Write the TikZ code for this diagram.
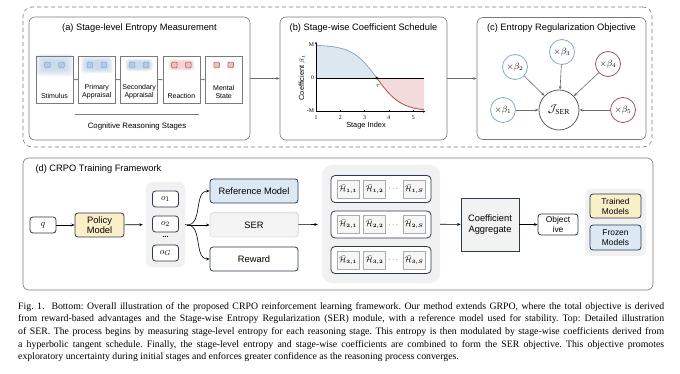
\documentclass[tikz,border=0pt]{standalone}
\usepackage{amsmath,amssymb,bm}
\usepackage{fontspec}
\setmainfont{Liberation Serif}
\setsansfont{Liberation Sans}
\usetikzlibrary{arrows.meta,positioning,shadows}

\definecolor{framegray}{HTML}{7A7A7A}
\definecolor{navy}{HTML}{2B3A4C}
\definecolor{softblue}{HTML}{DCE8F4}
\definecolor{softyellow}{HTML}{FBEFC8}
\definecolor{groupgray}{HTML}{F1F1F1}
\definecolor{lineblue}{HTML}{86AACF}
\definecolor{linered}{HTML}{B24A5C}
\definecolor{fillblue}{HTML}{DDE7EF}
\definecolor{fillred}{HTML}{F3DADB}
\definecolor{sqblue}{HTML}{B3CAE6}
\definecolor{sqred}{HTML}{EFBFC0}

\begin{document}
\begin{tikzpicture}[x=1pt, y=-1pt, >={Stealth[length=3.5pt,width=2.8pt]}, font=\sffamily,
  panel/.style={draw=framegray, line width=0.6pt, rounded corners=6pt, fill=white},
  paneltitle/.style={font=\sffamily\fontsize{9.3}{10}\selectfont},
  stagebox/.style={draw=framegray, line width=0.5pt, fill=none, minimum width=37pt, minimum height=47pt},
  stagelabel/.style={font=\sffamily\fontsize{7}{8.3}\selectfont, align=center, anchor=south, inner sep=1.5pt},
  stagearrow/.style={->, gray, line width=0.3pt, >={Stealth[length=2pt,width=1.8pt]}},
  betanode/.style={circle, draw=#1, line width=0.8pt, fill=white, minimum size=25pt, inner sep=0pt, font=\fontsize{9}{10}\selectfont},
  flowarrow/.style={->, line width=0.6pt, draw=gray!85!black},
  modelbox/.style={draw=navy, line width=0.8pt, rounded corners=3pt, fill=white, align=center, inner sep=1pt, font=\sffamily\fontsize{9.3}{10}\selectfont},
  grouptile/.style={fill=groupgray, rounded corners=6pt},
  hcell/.style={draw=gray!65, fill=gray!7, line width=0.6pt, minimum width=22pt, minimum height=18pt, inner sep=0pt, font=\fontsize{7.8}{8}\selectfont},
  ticklab/.style={font=\rmfamily\fontsize{5.8}{6}\selectfont, inner sep=0.5pt},
  link/.style={->, line width=0.6pt, black}
]
\useasboundingbox (0,0) rectangle (680,374);

% ---------------- top: the SER module ----------------
\node[draw=framegray, dash pattern=on 4pt off 3pt, line width=0.6pt, rounded corners=9pt, minimum width=629pt, minimum height=140pt] (serframe) at (337.5,77) {};

% (a) stage-level entropy
\node[panel, minimum width=221pt, minimum height=123pt] (pa) at (139.5,78.5) {};
\node[paneltitle] (ta) at (139.5,28) {(a) Stage-level Entropy Measurement};
% soft glow = entropy of each stage
\foreach \x/\g/\c in {54.5/9/sqblue, 96.8/6/sqblue, 139.1/3.5/sqblue, 181.4/3/sqred}
  \foreach \k in {1,...,6}
    \fill[\c, opacity=0.16, rounded corners=3pt] ({\x-10-\g*\k/6}, {62-0.9*\g*\k/6}) rectangle ({\x+10+\g*\k/6}, {68+0.9*\g*\k/6});
\foreach \x/\c/\d in {54.5/sqblue/lineblue, 96.8/sqblue/lineblue, 139.1/sqblue/lineblue, 181.4/sqred/linered, 223.7/sqred/linered}
  \foreach \dx in {-7,7}
    \draw[draw=\d, fill=\c, rounded corners=1pt, line width=0.5pt] ({\x+\dx-2.8},62.2) rectangle ({\x+\dx+2.8},67.8);
\foreach \i/\x/\lab in {1/54.5/Stimulus, 2/96.8/{Primary\\Appraisal}, 3/139.1/{Secondary\\Appraisal}, 4/181.4/Reaction, 5/223.7/{Mental\\State}} {
  \node[stagebox] (s\i) at (\x,79.5) {};
  \node[stagelabel] (l\i) at (\x,100.5) {\lab};
}
\foreach \i/\j in {1/2, 2/3, 3/4, 4/5}
  \draw[stagearrow] (s\i.east) -- (s\j.west);
\draw[framegray, line width=0.5pt] (75,114) -- (199,114);
\node[font=\sffamily\fontsize{7.8}{9}\selectfont] (cog) at (137,126) {Cognitive Reasoning Stages};

% (b) tanh schedule
\node[panel, minimum width=167pt, minimum height=123pt] (pb) at (363.5,78.5) {};
\node[paneltitle] (tb) at (363.5,28) {(b) Stage-wise Coefficient Schedule};
\begin{scope}[shift={(316,78)}, x=24.3pt, y=33pt]
  \fill[fillblue] plot[domain=1:3.5, samples=40] ({\x-1}, {-tanh(\x-3.5)}) -- (0,0) -- cycle;
  \fill[fillred] plot[domain=3.5:5.45, samples=40] ({\x-1}, {-tanh(\x-3.5)}) -- (4.45,0) -- cycle;
  \draw[lineblue, line width=0.8pt] plot[domain=1:3.5, samples=40] ({\x-1}, {-tanh(\x-3.5)});
  \draw[linered, line width=0.8pt] plot[domain=3.5:5.45, samples=40] ({\x-1}, {-tanh(\x-3.5)});
  \draw[line width=0.5pt] (0,0) -- (4.45,0);
  % axes
  \draw[->, line width=0.5pt, >={Stealth[length=2.5pt,width=2pt]}] (0,-1.02) -- (4.5,-1.02);
  \draw[->, line width=0.5pt, >={Stealth[length=2.5pt,width=2pt]}] (0,-1.02) -- (0,1.1);
  \foreach \t in {1,...,5} {
    \draw[line width=0.4pt] ({\t-1},-1.02) -- ({\t-1},-0.96);
    \node[ticklab] (xt\t) at ({\t-1},-1.2) {\t};
  }
  \foreach \v/\lab in {1/M, 0/0, -1/-M} {
    \draw[line width=0.4pt] (0,\v) -- (0.05,\v);
    \node[ticklab, anchor=east] (yt\lab) at (-0.05,\v) {\lab};
  }
  \fill (2.5,0) circle (1.4pt);
  \node[ticklab, font=\fontsize{6.5}{7}\selectfont] (tau) at (2.55,-0.25) {$\tau$};
\end{scope}
\node[rotate=90, font=\sffamily\fontsize{7.4}{8}\selectfont] (ylab) at (302,78) {Coefficient $\beta_t$};
\node[font=\sffamily\fontsize{7.4}{8}\selectfont] (xlab) at (366,126) {Stage Index};

% (c) combining into the objective
\node[panel, minimum width=169pt, minimum height=122pt] (pc) at (561.5,78.5) {};
\node[paneltitle] (tc) at (561.5,28) {(c) Entropy Regularization Objective};
\node[circle, draw=gray!75!black, line width=0.8pt, minimum size=40pt, inner sep=0pt, font=\fontsize{11}{12}\selectfont] (J) at (559,110) {$\mathcal{J}_{\mathrm{SER}}$};
\node[betanode=lineblue] (b1) at (503,110) {$\times\beta_1$};
\node[betanode=lineblue] (b2) at (515,67) {$\times\beta_2$};
\node[betanode=lineblue] (b3) at (562,52) {$\times\beta_3$};
\node[betanode=linered] (b4) at (608,64) {$\times\beta_4$};
\node[betanode=linered] (b5) at (623,110) {$\times\beta_5$};
\foreach \b in {b1,b2,b3,b4,b5}
  \draw[flowarrow] (\b) -- (J);

\draw[flowarrow] (pa) -- (pb);
\draw[flowarrow] (pb) -- (pc);

% ---------------- bottom: CRPO ----------------
\node[panel, minimum width=630pt, minimum height=132pt] (pd) at (338,224) {};
\node[paneltitle, anchor=west] (td) at (32,169) {(d) CRPO Training Framework};

\node[modelbox, minimum width=26pt, minimum height=16pt] (q) at (43,225) {$q$};
\node[modelbox, fill=softyellow, minimum width=49pt, minimum height=24pt] (policy) at (99.5,225) {Policy\\Model};

\node[grouptile, minimum width=39pt, minimum height=85pt] (ogrp) at (165.5,224.5) {};
\node[modelbox, minimum width=26pt, minimum height=16pt] (o1) at (165.5,199) {$o_1$};
\node[modelbox, minimum width=26pt, minimum height=16pt] (o2) at (165.5,224) {$o_2$};
\node[font=\bfseries\fontsize{8}{9}\selectfont] (odots) at (165.5,237) {...};
\node[modelbox, minimum width=26pt, minimum height=16pt] (oG) at (165.5,253) {$o_G$};
\coordinate (fork) at (187,225);

\node[modelbox, fill=softblue, minimum width=88pt, minimum height=24pt] (ref) at (254,191) {Reference Model};
\node[modelbox, draw=gray!25, fill=gray!9, drop shadow={opacity=0.22, shadow xshift=1pt, shadow yshift=1.2pt}, minimum width=88pt, minimum height=24pt] (ser) at (254,225) {SER};
\node[modelbox, minimum width=88pt, minimum height=24pt] (reward) at (254,259) {Reward};

\node[grouptile, rounded corners=10pt, minimum width=118pt, minimum height=118pt] (hgrp) at (381,224) {};
\foreach \rw/\y in {1/189, 2/224.5, 3/260} {
  \node[modelbox, rounded corners=4pt, minimum width=100pt, minimum height=27pt] (row\rw) at (381,\y) {};
  \node[hcell] (h\rw a) at (348,\y) {$\bar{\mathcal{H}}_{\bm{\rw,1}}$};
  \node[hcell] (h\rw b) at (374.5,\y) {$\bar{\mathcal{H}}_{\bm{\rw,2}}$};
  \node[font=\fontsize{7}{8}\selectfont, inner sep=0pt] (hd\rw) at (394,\y) {$\cdots$};
  \node[hcell] (h\rw S) at (414,\y) {$\bar{\mathcal{H}}_{\bm{\rw,S}}$};
}

\node[draw=navy, line width=0.8pt, fill=gray!10, minimum width=58pt, minimum height=53pt, align=center, inner sep=1pt, font=\sffamily\fontsize{9.3}{11}\selectfont] (agg) at (490,224.5) {Coefficient\\Aggregate};
\node[modelbox, minimum width=40pt, minimum height=21pt, inner sep=0.5pt, font=\sffamily\fontsize{8.4}{10}\selectfont] (obj) at (558,224.5) {Object\\ive};

\node[grouptile, minimum width=61pt, minimum height=67pt] (legend) at (615.5,222.5) {};
\node[modelbox, fill=softyellow, minimum width=51pt, minimum height=24pt, font=\sffamily\fontsize{8.4}{10}\selectfont] (trained) at (615.5,206) {Trained\\Models};
\node[modelbox, fill=softblue, minimum width=51pt, minimum height=25pt, font=\sffamily\fontsize{8.4}{10}\selectfont] (frozen) at (615.5,237.5) {Frozen\\Models};

\draw[link] (q) -- (policy);
\draw[link, shorten >=3pt] (policy) -- (ogrp);
\draw[link] (fork) to[out=0, in=180] (ref.west);
\draw[link] (fork) -- (ser.west);
\draw[link] (fork) to[out=0, in=180] (reward.west);
\draw[line width=0.6pt] (ogrp.east) -- (fork);
\draw[link, shorten >=4pt] (ser) -- (hgrp);
\draw[link] (hgrp) -- (agg);
\draw[link] (agg) -- (obj);

% ---------------- caption ----------------
\node[anchor=north west, text width=646pt, inner sep=0pt, align=justify, font=\rmfamily\fontsize{9.8}{12.7}\selectfont\frenchspacing] (caption) at (18,302)
{Fig.~1.\ \ Bottom: Overall illustration of the proposed CRPO reinforcement learning framework. Our method extends GRPO, where the total objective is derived\linebreak
from reward-based advantages and the Stage-wise Entropy Regularization (SER) module, with a reference model used for stability. Top: Detailed illustration\linebreak
of SER. The process begins by measuring stage-level entropy for each reasoning stage. This entropy is then modulated by stage-wise coefficients derived from\linebreak
a hyperbolic tangent schedule. Finally, the stage-level entropy and stage-wise coefficients are combined to form the SER objective. This objective promotes\linebreak
exploratory uncertainty during initial stages and enforces greater confidence as the reasoning process converges.};
\end{tikzpicture}
\end{document}
